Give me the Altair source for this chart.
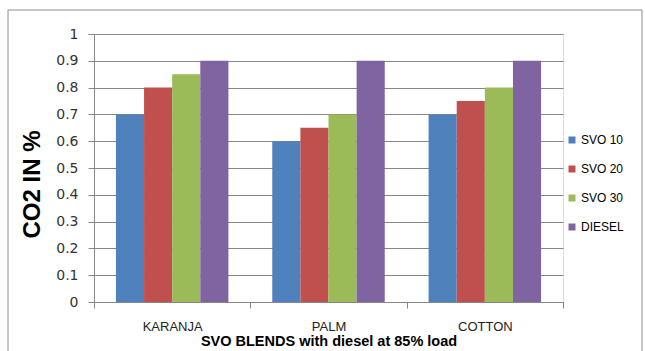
import altair as alt
import pandas as pd

# CO2 emission (%) for straight vegetable oil blends vs diesel at 85% load
fuels = ["KARANJA", "PALM", "COTTON"]
blends = ["SVO 10", "SVO 20", "SVO 30", "DIESEL"]
svo10 = [0.70, 0.60, 0.70]
svo20 = [0.80, 0.65, 0.75]
svo30 = [0.85, 0.70, 0.80]
diesel = [0.90, 0.90, 0.90]
colors = ["#4F81BD", "#C0504D", "#9BBB59", "#8064A2"]

rows = []
for series, vals in zip(blends, [svo10, svo20, svo30, diesel]):
    for f, v in zip(fuels, vals):
        rows.append({"fuel": f, "blend": series, "co2": v})
df = pd.DataFrame(rows)

W, H = 469, 268
FONT = "Liberation Sans"

bars = alt.Chart(df).mark_bar().encode(
    x=alt.X(
        "fuel:N",
        sort=fuels,
        scale=alt.Scale(paddingInner=0, paddingOuter=0),
        axis=alt.Axis(
            title="SVO BLENDS  with diesel at 85% load",
            labelAngle=0,
            tickBand="extent",
            tickSize=6,
            tickColor="#868686",
            domainColor="#868686",
            labelPadding=12,
            labelFont=FONT,
            labelFontSize=13,
            labelColor="#222222",
            titleFont=FONT,
            titleFontSize=14.5,
            titleFontWeight="bold",
            titleColor="#000000",
            titlePadding=1,
            grid=False,
        ),
    ),
    xOffset=alt.XOffset("blend:N", sort=blends,
                        scale=alt.Scale(paddingInner=0, paddingOuter=0.78)),
    y=alt.Y(
        "co2:Q",
        scale=alt.Scale(domain=[0, 1], nice=False),
        axis=alt.Axis(
            title="CO2 IN %",
            values=[i / 10 for i in range(11)],
            format=".1~f",
            grid=True,
            gridColor="#868686",
            gridWidth=1,
            tickSize=6,
            tickColor="#868686",
            domainColor="#868686",
            labelPadding=10,
            labelFont="DejaVu Sans",
            labelFontSize=14,
            labelColor="#333333",
            titleFont=FONT,
            titleFontSize=24,
            titleFontWeight="bold",
            titleColor="#000000",
            titlePadding=11,
            titleY=150,
        ),
    ),
    color=alt.Color(
        "blend:N",
        sort=blends,
        scale=alt.Scale(domain=blends, range=colors),
        legend=alt.Legend(
            title=None,
            orient="none",
            legendX=472,
            legendY=100,
            symbolType="square",
            symbolSize=49,
            symbolStrokeWidth=0,
            labelFont=FONT,
            labelFontSize=12,
            labelColor="#000000",
            labelOffset=3,
            rowPadding=17,
        ),
    ),
)

# outer chart frame
frame = alt.Chart(pd.DataFrame({"a": [0]})).mark_rect(
    fill=None, stroke="#8C8C8C", strokeWidth=1
).encode(
    x=alt.value(-86), x2=alt.value(548), y=alt.value(-24), y2=alt.value(330)
)

chart = alt.layer(frame, bars).properties(
    width=W,
    height=H,
    autosize=alt.AutoSizeParams(type="none"),
    padding={"left": 94, "top": 34, "right": 645 - 94 - W, "bottom": 351 - 34 - H},
).configure_view(stroke=None).configure(background="white")

chart.save("out.html", embed_options={"renderer": "svg", "actions": False})
